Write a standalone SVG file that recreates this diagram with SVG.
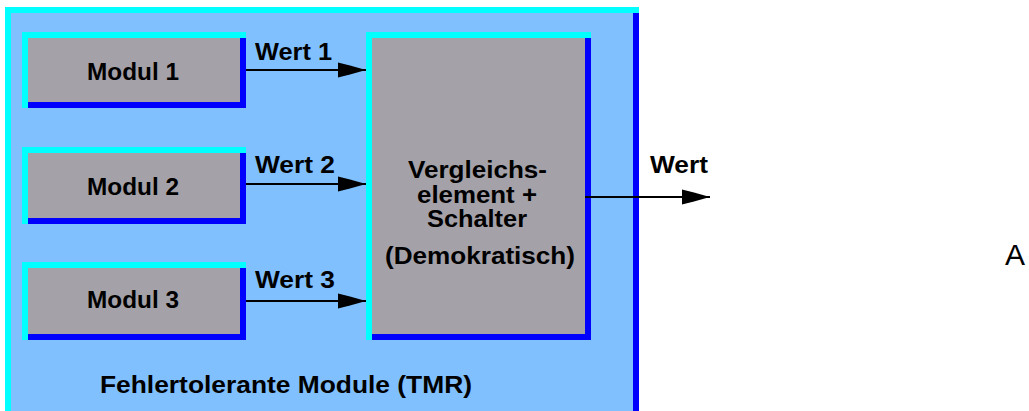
<svg xmlns="http://www.w3.org/2000/svg" width="1029" height="411" viewBox="0 0 1029 411">
<style>
.hi{fill:#00ffff}
.lo{fill:#0000ff}
.face{fill:#a4a2a8}
.bg{fill:#80c0ff}
.t{font-family:"Liberation Sans",Arial,sans-serif;font-weight:bold;font-size:23px;fill:#000}
.c{stroke:#000;stroke-width:2;fill:none}
</style>
<defs>
<marker id="ah" viewBox="0 -8 28 16" refX="28" refY="0" markerWidth="28" markerHeight="16" markerUnits="userSpaceOnUse" orient="auto">
<path d="M0,-7.5 L12,-4.5 L28,0 L12,4.5 L0,7.5 Z" fill="#000"/>
</marker>
</defs>
<rect width="1029" height="411" fill="#fff"/>
<g id="tmr">
<rect class="bg" x="5" y="7" width="634" height="404"/>
<rect class="hi" x="5" y="7" width="634" height="6"/>
<rect class="hi" x="5" y="7" width="6" height="404"/>
<rect class="lo" x="633" y="13" width="6" height="398"/>
<text class="t" x="100" y="393" textLength="372" lengthAdjust="spacingAndGlyphs">Fehlertolerante Module (TMR)</text>
</g>
<g id="modul1">
<rect class="hi" x="22" y="32" width="224" height="76"/>
<rect class="lo" x="28" y="38" width="218" height="70"/>
<rect class="face" x="28" y="38" width="212" height="64"/>
<text class="t" x="87" y="80" textLength="92" lengthAdjust="spacingAndGlyphs">Modul 1</text>
</g>
<g id="modul2">
<rect class="hi" x="22" y="147" width="224" height="77"/>
<rect class="lo" x="28" y="153" width="218" height="71"/>
<rect class="face" x="28" y="153" width="212" height="65"/>
<text class="t" x="87" y="195" textLength="92" lengthAdjust="spacingAndGlyphs">Modul 2</text>
</g>
<g id="modul3">
<rect class="hi" x="22" y="262" width="224" height="78"/>
<rect class="lo" x="28" y="268" width="218" height="72"/>
<rect class="face" x="28" y="268" width="212" height="66"/>
<text class="t" x="87" y="308" textLength="92" lengthAdjust="spacingAndGlyphs">Modul 3</text>
</g>
<g id="vergleicher">
<rect class="hi" x="366" y="32" width="225" height="308"/>
<rect class="lo" x="372" y="38" width="219" height="302"/>
<rect class="face" x="372" y="38" width="213" height="296"/>
<text class="t" x="408" y="178" textLength="139" lengthAdjust="spacingAndGlyphs">Vergleichs-</text>
<text class="t" x="417" y="203" textLength="120" lengthAdjust="spacingAndGlyphs">element +</text>
<text class="t" x="427" y="227" textLength="100" lengthAdjust="spacingAndGlyphs">Schalter</text>
<text class="t" x="385" y="264" textLength="190" lengthAdjust="spacingAndGlyphs">(Demokratisch)</text>
</g>
<g id="connectors">
<line class="c" x1="246" y1="70" x2="366" y2="70" marker-end="url(#ah)"/>
<line class="c" x1="246" y1="184" x2="366" y2="184" marker-end="url(#ah)"/>
<line class="c" x1="246" y1="301" x2="366" y2="301" marker-end="url(#ah)"/>
<line class="c" x1="585" y1="197" x2="710" y2="197" marker-end="url(#ah)"/>
<text class="t" x="255" y="60" textLength="77" lengthAdjust="spacingAndGlyphs">Wert 1</text>
<text class="t" x="255" y="173" textLength="80" lengthAdjust="spacingAndGlyphs">Wert 2</text>
<text class="t" x="255" y="288" textLength="80" lengthAdjust="spacingAndGlyphs">Wert 3</text>
<text class="t" x="650" y="173" textLength="58" lengthAdjust="spacingAndGlyphs">Wert</text>
</g>
<text x="1005" y="265" font-family="'Liberation Sans',Arial,sans-serif" font-size="30" fill="#000">A</text>
</svg>
